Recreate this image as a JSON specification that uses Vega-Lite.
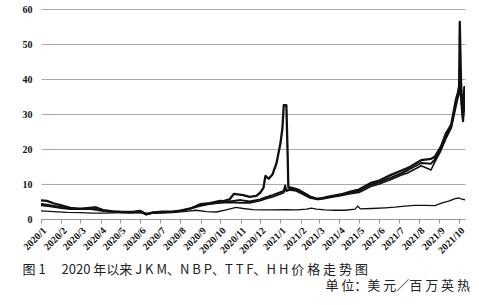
{
  "$schema": "https://vega.github.io/schema/vega-lite/v6.json",
  "autosize": "none",
  "width": 424,
  "height": 210,
  "padding": {"left": 41, "top": 9, "right": 14, "bottom": 86},
  "background": "white",
  "config": {"view": {"stroke": null}},
  "title": {
    "text": "单 位：美 元／百 万 英 热",
    "orient": "bottom",
    "anchor": "end",
    "frame": "group",
    "offset": 4,
    "font": "Noto Sans CJK SC",
    "fontSize": 13,
    "fontWeight": "normal",
    "color": "#222",
    "dx": 5
  },
  "data": {
    "values": [
      {"s":"HH","d":"2020-01-01","v":2.3},{"s":"HH","d":"2020-01-20","v":2.1},{"s":"HH","d":"2020-02-10","v":1.9},{"s":"HH","d":"2020-03-01","v":1.8},{"s":"HH","d":"2020-03-20","v":1.7},{"s":"HH","d":"2020-04-10","v":1.7},{"s":"HH","d":"2020-05-01","v":1.8},{"s":"HH","d":"2020-05-20","v":1.8},{"s":"HH","d":"2020-06-10","v":1.7},{"s":"HH","d":"2020-07-01","v":1.7},{"s":"HH","d":"2020-07-20","v":1.8},{"s":"HH","d":"2020-08-10","v":2.2},{"s":"HH","d":"2020-08-25","v":2.5},{"s":"HH","d":"2020-09-10","v":2.1},{"s":"HH","d":"2020-09-25","v":2.0},{"s":"HH","d":"2020-10-10","v":2.6},{"s":"HH","d":"2020-10-25","v":3.3},{"s":"HH","d":"2020-11-05","v":3.0},{"s":"HH","d":"2020-11-20","v":2.7},{"s":"HH","d":"2020-12-05","v":2.6},{"s":"HH","d":"2020-12-20","v":2.6},{"s":"HH","d":"2021-01-10","v":2.7},{"s":"HH","d":"2021-01-25","v":2.6},{"s":"HH","d":"2021-02-10","v":2.8},{"s":"HH","d":"2021-02-17","v":3.1},{"s":"HH","d":"2021-02-25","v":2.8},{"s":"HH","d":"2021-03-10","v":2.6},{"s":"HH","d":"2021-03-25","v":2.5},{"s":"HH","d":"2021-04-10","v":2.5},{"s":"HH","d":"2021-04-25","v":2.8},{"s":"HH","d":"2021-04-29","v":3.7},{"s":"HH","d":"2021-05-03","v":2.9},{"s":"HH","d":"2021-05-20","v":3.0},{"s":"HH","d":"2021-06-10","v":3.2},{"s":"HH","d":"2021-06-25","v":3.4},{"s":"HH","d":"2021-07-10","v":3.7},{"s":"HH","d":"2021-07-25","v":3.9},{"s":"HH","d":"2021-08-10","v":3.9},{"s":"HH","d":"2021-08-25","v":3.8},{"s":"HH","d":"2021-09-05","v":4.6},{"s":"HH","d":"2021-09-15","v":5.1},{"s":"HH","d":"2021-09-25","v":5.8},{"s":"HH","d":"2021-10-01","v":6.0},{"s":"HH","d":"2021-10-05","v":5.7},{"s":"HH","d":"2021-10-10","v":5.5},

      {"s":"TTF","d":"2020-01-01","v":3.9},{"s":"TTF","d":"2020-01-15","v":3.6},{"s":"TTF","d":"2020-02-01","v":3.1},{"s":"TTF","d":"2020-02-15","v":2.8},{"s":"TTF","d":"2020-03-01","v":2.8},{"s":"TTF","d":"2020-03-15","v":2.9},{"s":"TTF","d":"2020-04-01","v":2.4},{"s":"TTF","d":"2020-04-15","v":2.1},{"s":"TTF","d":"2020-05-01","v":1.9},{"s":"TTF","d":"2020-05-15","v":1.8},{"s":"TTF","d":"2020-06-01","v":1.9},{"s":"TTF","d":"2020-06-10","v":1.3},{"s":"TTF","d":"2020-06-20","v":1.7},{"s":"TTF","d":"2020-07-05","v":1.9},{"s":"TTF","d":"2020-07-20","v":2.0},{"s":"TTF","d":"2020-08-01","v":2.3},{"s":"TTF","d":"2020-08-15","v":2.8},{"s":"TTF","d":"2020-09-01","v":4.0},{"s":"TTF","d":"2020-09-15","v":4.3},{"s":"TTF","d":"2020-10-01","v":4.6},{"s":"TTF","d":"2020-10-15","v":4.7},{"s":"TTF","d":"2020-11-01","v":4.6},{"s":"TTF","d":"2020-11-15","v":4.6},{"s":"TTF","d":"2020-12-01","v":5.2},{"s":"TTF","d":"2020-12-10","v":5.8},{"s":"TTF","d":"2020-12-20","v":6.3},{"s":"TTF","d":"2020-12-30","v":7.0},{"s":"TTF","d":"2021-01-06","v":7.5},{"s":"TTF","d":"2021-01-08","v":8.8},{"s":"TTF","d":"2021-01-10","v":7.9},{"s":"TTF","d":"2021-01-15","v":8.3},{"s":"TTF","d":"2021-01-25","v":8.0},{"s":"TTF","d":"2021-02-05","v":7.0},{"s":"TTF","d":"2021-02-15","v":6.0},{"s":"TTF","d":"2021-02-27","v":5.6},{"s":"TTF","d":"2021-03-08","v":5.8},{"s":"TTF","d":"2021-03-20","v":6.2},{"s":"TTF","d":"2021-04-01","v":6.6},{"s":"TTF","d":"2021-04-18","v":7.2},{"s":"TTF","d":"2021-05-01","v":7.6},{"s":"TTF","d":"2021-05-19","v":9.3},{"s":"TTF","d":"2021-06-01","v":10.0},{"s":"TTF","d":"2021-06-19","v":11.3},{"s":"TTF","d":"2021-07-04","v":12.5},{"s":"TTF","d":"2021-07-15","v":13.2},{"s":"TTF","d":"2021-08-04","v":15.2},{"s":"TTF","d":"2021-08-19","v":14.0},{"s":"TTF","d":"2021-08-25","v":16.3},{"s":"TTF","d":"2021-09-03","v":19.5},{"s":"TTF","d":"2021-09-11","v":23.0},{"s":"TTF","d":"2021-09-19","v":26.0},{"s":"TTF","d":"2021-09-26","v":32.0},{"s":"TTF","d":"2021-09-29","v":34.5},{"s":"TTF","d":"2021-10-01","v":35.5},{"s":"TTF","d":"2021-10-03","v":37.0},{"s":"TTF","d":"2021-10-05","v":31.0},{"s":"TTF","d":"2021-10-07","v":28.0},{"s":"TTF","d":"2021-10-09","v":35.5},{"s":"TTF","d":"2021-10-10","v":31.0},

      {"s":"NBP","d":"2020-01-01","v":4.3},{"s":"NBP","d":"2020-01-10","v":4.1},{"s":"NBP","d":"2020-01-25","v":3.6},{"s":"NBP","d":"2020-02-10","v":3.1},{"s":"NBP","d":"2020-02-25","v":2.9},{"s":"NBP","d":"2020-03-10","v":3.0},{"s":"NBP","d":"2020-03-25","v":3.3},{"s":"NBP","d":"2020-04-05","v":2.6},{"s":"NBP","d":"2020-04-20","v":2.2},{"s":"NBP","d":"2020-05-05","v":2.0},{"s":"NBP","d":"2020-05-20","v":1.9},{"s":"NBP","d":"2020-06-01","v":2.2},{"s":"NBP","d":"2020-06-10","v":1.4},{"s":"NBP","d":"2020-06-20","v":1.8},{"s":"NBP","d":"2020-07-05","v":2.0},{"s":"NBP","d":"2020-07-20","v":2.0},{"s":"NBP","d":"2020-08-01","v":2.4},{"s":"NBP","d":"2020-08-15","v":2.9},{"s":"NBP","d":"2020-09-01","v":4.3},{"s":"NBP","d":"2020-09-15","v":4.6},{"s":"NBP","d":"2020-10-01","v":5.2},{"s":"NBP","d":"2020-10-15","v":5.0},{"s":"NBP","d":"2020-11-01","v":5.4},{"s":"NBP","d":"2020-11-15","v":5.0},{"s":"NBP","d":"2020-12-01","v":5.6},{"s":"NBP","d":"2020-12-10","v":6.2},{"s":"NBP","d":"2020-12-20","v":6.8},{"s":"NBP","d":"2020-12-30","v":7.5},{"s":"NBP","d":"2021-01-06","v":8.0},{"s":"NBP","d":"2021-01-08","v":9.6},{"s":"NBP","d":"2021-01-10","v":8.2},{"s":"NBP","d":"2021-01-15","v":8.6},{"s":"NBP","d":"2021-01-25","v":8.4},{"s":"NBP","d":"2021-02-05","v":7.4},{"s":"NBP","d":"2021-02-15","v":6.4},{"s":"NBP","d":"2021-02-25","v":5.8},{"s":"NBP","d":"2021-03-08","v":5.9},{"s":"NBP","d":"2021-03-20","v":6.4},{"s":"NBP","d":"2021-04-01","v":6.9},{"s":"NBP","d":"2021-04-18","v":7.5},{"s":"NBP","d":"2021-05-01","v":8.0},{"s":"NBP","d":"2021-05-19","v":9.8},{"s":"NBP","d":"2021-06-01","v":10.5},{"s":"NBP","d":"2021-06-19","v":11.8},{"s":"NBP","d":"2021-07-04","v":13.0},{"s":"NBP","d":"2021-07-15","v":14.0},{"s":"NBP","d":"2021-08-04","v":16.0},{"s":"NBP","d":"2021-08-19","v":15.8},{"s":"NBP","d":"2021-08-25","v":17.0},{"s":"NBP","d":"2021-09-03","v":20.0},{"s":"NBP","d":"2021-09-11","v":23.5},{"s":"NBP","d":"2021-09-19","v":26.5},{"s":"NBP","d":"2021-09-26","v":33.0},{"s":"NBP","d":"2021-09-29","v":35.5},{"s":"NBP","d":"2021-10-01","v":36.5},{"s":"NBP","d":"2021-10-03","v":38.0},{"s":"NBP","d":"2021-10-05","v":33.0},{"s":"NBP","d":"2021-10-07","v":28.5},{"s":"NBP","d":"2021-10-09","v":36.5},{"s":"NBP","d":"2021-10-10","v":32.0},

      {"s":"JKM","d":"2020-01-01","v":5.3},{"s":"JKM","d":"2020-01-10","v":5.2},{"s":"JKM","d":"2020-01-20","v":4.5},{"s":"JKM","d":"2020-02-01","v":3.9},{"s":"JKM","d":"2020-02-15","v":3.2},{"s":"JKM","d":"2020-03-01","v":2.9},{"s":"JKM","d":"2020-03-15","v":3.2},{"s":"JKM","d":"2020-03-25","v":3.3},{"s":"JKM","d":"2020-04-05","v":2.4},{"s":"JKM","d":"2020-04-20","v":2.1},{"s":"JKM","d":"2020-05-05","v":2.0},{"s":"JKM","d":"2020-05-20","v":2.0},{"s":"JKM","d":"2020-06-01","v":2.3},{"s":"JKM","d":"2020-06-10","v":1.3},{"s":"JKM","d":"2020-06-20","v":1.9},{"s":"JKM","d":"2020-07-05","v":2.1},{"s":"JKM","d":"2020-07-20","v":2.1},{"s":"JKM","d":"2020-08-01","v":2.4},{"s":"JKM","d":"2020-08-15","v":3.0},{"s":"JKM","d":"2020-09-01","v":3.8},{"s":"JKM","d":"2020-09-15","v":4.4},{"s":"JKM","d":"2020-10-01","v":4.8},{"s":"JKM","d":"2020-10-15","v":5.6},{"s":"JKM","d":"2020-10-22","v":7.2},{"s":"JKM","d":"2020-11-05","v":6.8},{"s":"JKM","d":"2020-11-15","v":6.3},{"s":"JKM","d":"2020-11-25","v":6.6},{"s":"JKM","d":"2020-12-01","v":7.5},{"s":"JKM","d":"2020-12-06","v":8.9},{"s":"JKM","d":"2020-12-09","v":12.3},{"s":"JKM","d":"2020-12-14","v":11.5},{"s":"JKM","d":"2020-12-20","v":12.8},{"s":"JKM","d":"2020-12-26","v":16.0},{"s":"JKM","d":"2021-01-01","v":21.7},{"s":"JKM","d":"2021-01-04","v":26.0},{"s":"JKM","d":"2021-01-06","v":32.5},{"s":"JKM","d":"2021-01-10","v":32.5},{"s":"JKM","d":"2021-01-12","v":18.0},{"s":"JKM","d":"2021-01-13","v":9.1},{"s":"JKM","d":"2021-01-20","v":8.8},{"s":"JKM","d":"2021-01-29","v":8.3},{"s":"JKM","d":"2021-02-08","v":7.2},{"s":"JKM","d":"2021-02-16","v":6.3},{"s":"JKM","d":"2021-02-27","v":5.7},{"s":"JKM","d":"2021-03-14","v":6.3},{"s":"JKM","d":"2021-04-03","v":7.0},{"s":"JKM","d":"2021-04-18","v":7.8},{"s":"JKM","d":"2021-05-01","v":8.4},{"s":"JKM","d":"2021-05-19","v":10.3},{"s":"JKM","d":"2021-06-01","v":11.0},{"s":"JKM","d":"2021-06-19","v":12.6},{"s":"JKM","d":"2021-07-04","v":13.8},{"s":"JKM","d":"2021-07-15","v":14.6},{"s":"JKM","d":"2021-08-04","v":16.8},{"s":"JKM","d":"2021-08-19","v":17.2},{"s":"JKM","d":"2021-08-25","v":17.8},{"s":"JKM","d":"2021-09-03","v":20.6},{"s":"JKM","d":"2021-09-11","v":24.5},{"s":"JKM","d":"2021-09-19","v":27.0},{"s":"JKM","d":"2021-09-26","v":34.0},{"s":"JKM","d":"2021-09-29","v":36.0},{"s":"JKM","d":"2021-10-01","v":38.0},{"s":"JKM","d":"2021-10-02","v":56.3},{"s":"JKM","d":"2021-10-04","v":38.8},{"s":"JKM","d":"2021-10-07","v":28.0},{"s":"JKM","d":"2021-10-09","v":37.7},{"s":"JKM","d":"2021-10-10","v":31.0}
    ],
    "format": {"parse": {"d": "utc:'%Y-%m-%d'"}}
  },
  "mark": {"type": "line", "strokeJoin": "round", "strokeCap": "round", "clip": true},
  "encoding": {
    "x": {
      "field": "d",
      "type": "temporal",
      "scale": {"type": "utc", "domain": [{"year": 2020, "month": 1, "date": 1, "utc": true}, {"year": 2021, "month": 10, "date": 10, "utc": true}], "nice": false},
      "axis": {
        "title": "图 1　 2020 年以来 J K M、N B P、T T F、H H 价 格 走 势 图",
        "titleFont": "Noto Sans CJK SC",
        "titleFontSize": 13,
        "titleFontWeight": "normal",
        "titleColor": "#222",
        "titleAnchor": "start",
        "titleAlign": "left",
        "titleBaseline": "alphabetic",
        "titleX": -19,
        "titleY": 54,
        "tickCount": {"interval": "month", "step": 1},
        "labelExpr": "utcFormat(datum.value, '%Y/%-m')",
        "labelAngle": -45,
        "labelFont": "Liberation Serif",
        "labelFontWeight": "bold",
        "labelFontSize": 10,
        "labelColor": "#111",
        "labelPadding": 2,
        "labelOverlap": false,
        "labelBound": false,
        "labelFlush": false,
        "grid": false,
        "domainColor": "#999",
        "tickColor": "#999",
        "tickSize": 4
      }
    },
    "y": {
      "field": "v",
      "type": "quantitative",
      "scale": {"domain": [0, 60], "nice": false},
      "axis": {
        "title": null,
        "values": [0, 10, 20, 30, 40, 50, 60],
        "labelFont": "Liberation Serif",
        "labelFontWeight": "bold",
        "labelFontSize": 10,
        "labelColor": "#111",
        "labelPadding": 9,
        "domain": false,
        "ticks": false,
        "gridColor": "#aaa",
        "gridWidth": 1
      }
    },
    "detail": {"field": "s"},
    "color": {"value": "#111"},
    "strokeWidth": {
      "field": "s",
      "type": "nominal",
      "scale": {"domain": ["HH", "TTF", "NBP", "JKM"], "range": [1.3, 2.3, 2.3, 2.3]},
      "legend": null
    }
  }
}
